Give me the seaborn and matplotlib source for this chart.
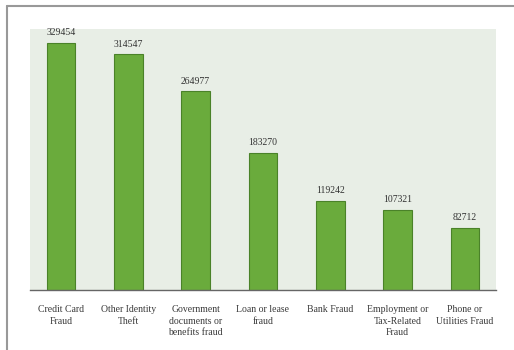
import matplotlib
matplotlib.use("Agg")
import matplotlib.pyplot as plt
import seaborn as sns
import pandas as pd
from matplotlib.lines import Line2D

categories = ["Credit Card\nFraud", "Other Identity\nTheft", "Government\ndocuments or\nbenefits fraud",
              "Loan or lease\nfraud", "Bank Fraud", "Employment or\nTax-Related\nFraud",
              "Phone or\nUtilities Fraud"]
values = [329454, 314547, 264977, 183270, 119242, 107321, 82712]

df = pd.DataFrame({"category": categories, "value": values})

sns.set_theme(style="white")
plt.rcParams['font.family'] = ['Liberation Serif', 'DejaVu Serif']

fig = plt.figure(figsize=(5.14, 3.5), dpi=100)
ax = fig.add_axes([30/514, 60/350, 466/514, 261/350])
ax.set_facecolor("#e8eee6")

sns.barplot(data=df, x="category", y="value", color="#6aab3c", saturation=1,
            width=0.425, edgecolor="#4a8229", linewidth=0.8, ax=ax)

ax.bar_label(ax.containers[0], labels=[str(v) for v in values], padding=4,
             fontsize=7, color="#333333")

ax.set_xlim(-0.46, 6.46)
ax.set_ylim(0, 348000)
ax.set_xlabel("")
ax.set_ylabel("")
ax.set_yticks([])
ax.tick_params(axis="x", length=0, labelsize=7, labelcolor="#3a3a3a", pad=11)
for lbl in ax.get_xticklabels():
    lbl.set_linespacing(1.35)
for s in ["top", "right", "left"]:
    ax.spines[s].set_visible(False)
ax.spines["bottom"].set_color("#666666")
ax.spines["bottom"].set_linewidth(1.0)

# outer frame (top and left edges visible)
fig.add_artist(Line2D([7/514, 1.0], [1 - 6/350, 1 - 6/350], transform=fig.transFigure,
                      color="#999999", linewidth=1.5))
fig.add_artist(Line2D([7/514, 7/514], [0.0, 1 - 6/350], transform=fig.transFigure,
                      color="#999999", linewidth=1.5))

fig.savefig("out.png", dpi=100)
